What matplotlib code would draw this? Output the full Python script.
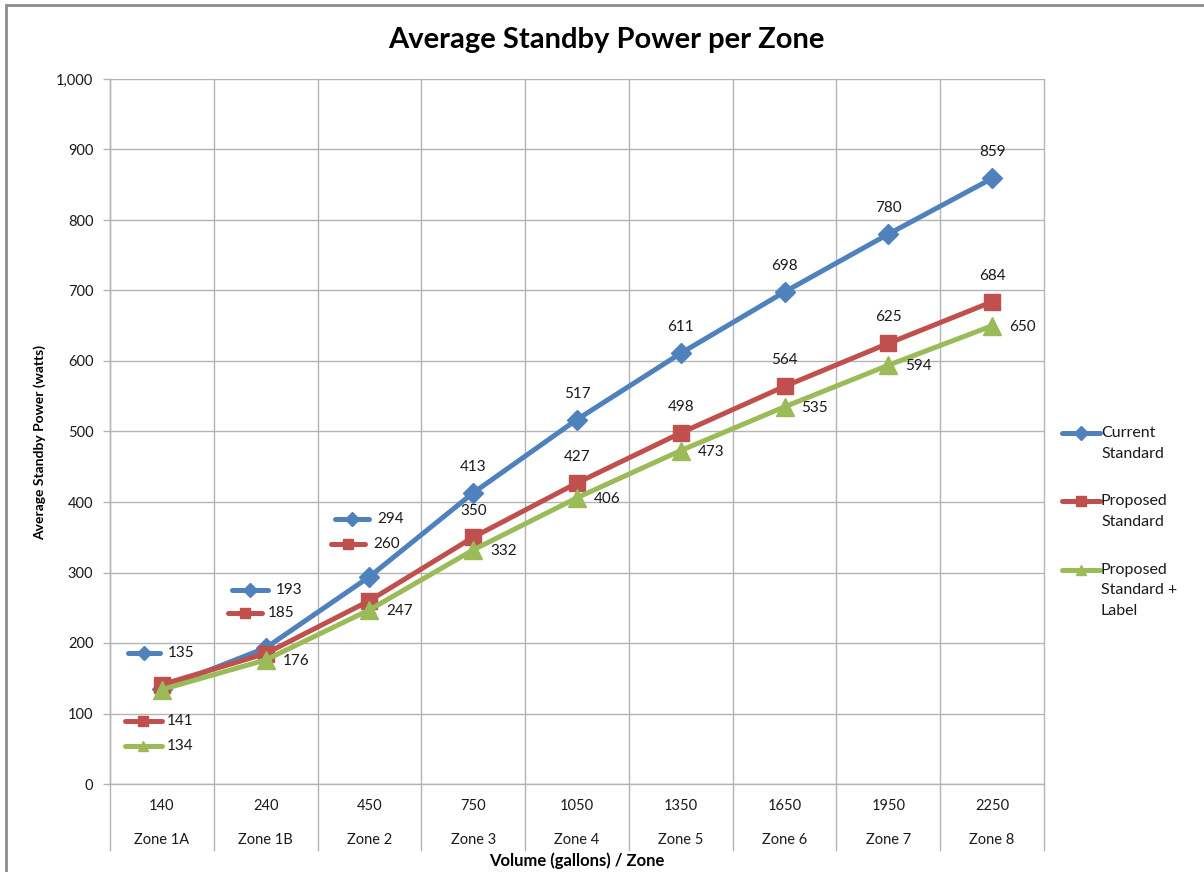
import matplotlib.pyplot as plt
from matplotlib.lines import Line2D
from matplotlib.patches import Rectangle
from matplotlib.ticker import FuncFormatter
import numpy as np

plt.rcParams['font.family'] = ['Lato', 'DejaVu Sans']

# data
volumes = ['140', '240', '450', '750', '1050', '1350', '1650', '1950', '2250']
zones = ['Zone 1A', 'Zone 1B', 'Zone 2', 'Zone 3', 'Zone 4', 'Zone 5', 'Zone 6', 'Zone 7', 'Zone 8']
current_std = [135, 193, 294, 413, 517, 611, 698, 780, 859]
proposed_std = [141, 185, 260, 350, 427, 498, 564, 625, 684]
proposed_label = [134, 176, 247, 332, 406, 473, 535, 594, 650]
series_names = ['Current\nStandard', 'Proposed\nStandard', 'Proposed\nStandard +\nLabel']

W, H = 1204, 872
TXT = '#1a1a1a'
GRID = '#b4b4b4'

series = [
    (current_std, '#4f81bd', 'D', 10),
    (proposed_std, '#c0504d', 's', 12),
    (proposed_label, '#9bbb59', '^', 13),
]

fig = plt.figure(figsize=(W / 100, H / 100), dpi=100)
ax = fig.add_axes([110 / W, 88 / H, 934 / W, 705 / H])

x = np.arange(len(volumes))
ax.set_xlim(-0.5, len(volumes) - 0.5)
ax.set_ylim(0, 1000)
ax.set_yticks(np.arange(0, 1001, 100))
ax.yaxis.set_major_formatter(FuncFormatter(lambda v, p: f'{int(v):,}'))
ax.set_xticks([])
ax.tick_params(axis='y', length=5, width=1, color=GRID, pad=7, labelsize=10.5, labelcolor=TXT)
ax.yaxis.grid(True, color=GRID, lw=1)
ax.set_axisbelow(True)
for s in ['top', 'right']:
    ax.spines[s].set_visible(False)
for s in ['left', 'bottom']:
    ax.spines[s].set_color(GRID)
    ax.spines[s].set_linewidth(1)

# vertical category separators, running down through the label rows
xt = ax.get_xaxis_transform()
for b in np.arange(-0.5, len(volumes)):
    ax.plot([b, b], [-0.094, 1], transform=xt, color=GRID, lw=1, clip_on=False, zorder=0)

for i in x:
    ax.text(i, -0.031, volumes[i], transform=xt, ha='center', va='center', fontsize=10.5, color=TXT)
    ax.text(i, -0.079, zones[i], transform=xt, ha='center', va='center', fontsize=10.5, color=TXT)

for vals, col, mk, ms in series:
    ax.plot(x, vals, color=col, lw=3.6, marker=mk, markersize=ms, zorder=3)

fig.canvas.draw()


def to_px(i, v):
    return ax.transData.transform((i, v))


def key(px, py, col, mk, ms):
    fig.add_artist(Line2D([px[0], px[1]], [py, py], transform=None, color=col, lw=3.6,
                          solid_capstyle='round'))
    fig.add_artist(Line2D([(px[0] + px[1]) / 2], [py], transform=None, color=col,
                          marker=mk, markersize=ms, lw=0))


# data labels: (key start, key end, text x, dy) offsets in pixels for keyed labels
keyed = {
    (0, 0): (-34, -2, 6, 36),
    (1, 0): (-37, 0, 5, -36),
    (2, 0): (-37, 0, 5, -56),
    (0, 1): (-34, 2, 10, 58),
    (1, 1): (-38, -4, 2, 41),
    (0, 2): (-34, 0, 8, 58),
    (1, 2): (-38, -4, 4, 57),
}
LBL = 11

for si, (vals, col, mk, ms) in enumerate(series):
    for i, v in enumerate(vals):
        px, py = to_px(i, v)
        if (si, i) in keyed:
            k0, k1, tx, dy = keyed[(si, i)]
            key((px + k0, px + k1), py + dy, col, mk, 7)
            fig.text((px + tx) / W, (py + dy) / H, str(v), ha='left', va='center',
                     fontsize=LBL, color=TXT)
        elif si == 2:
            fig.text((px + 17) / W, (py - 1) / H, str(v), ha='left', va='center',
                     fontsize=LBL, color=TXT)
        else:
            fig.text(px / W, (py + 26) / H, str(v), ha='center', va='center',
                     fontsize=LBL, color=TXT)

# legend
leg_rows = [433, 501, 570]
for (vals, col, mk, ms), name, ry in zip(series, series_names, leg_rows):
    key((1062, 1100), H - ry, col, mk, 7)
    for k, line in enumerate(name.split('\n')):
        fig.text(1101 / W, 1 - (ry + 20.5 * k) / H, line, ha='left', va='center',
                 fontsize=11.5, color=TXT)

fig.text(606 / W, 1 - 40 / H, 'Average Standby Power per Zone', ha='center', va='center',
         fontsize=21, fontweight='bold', color='black')
fig.text(40 / W, 1 - 443 / H, 'Average Standby Power (watts)', rotation=90, ha='center',
         va='center', fontsize=10, fontweight='bold', color='black')
ax.text(0.5, -0.109, 'Volume (gallons) / Zone', transform=ax.transAxes, ha='center',
        va='center', fontsize=12, fontweight='bold', color='black')

# chart frame
fig.add_artist(Rectangle((6 / W, -0.1), 1.2, 1 - 5 / H + 0.1, transform=fig.transFigure,
                         fill=False, edgecolor='#8c8c8c', lw=2))

fig.savefig('out.png', dpi=100)
